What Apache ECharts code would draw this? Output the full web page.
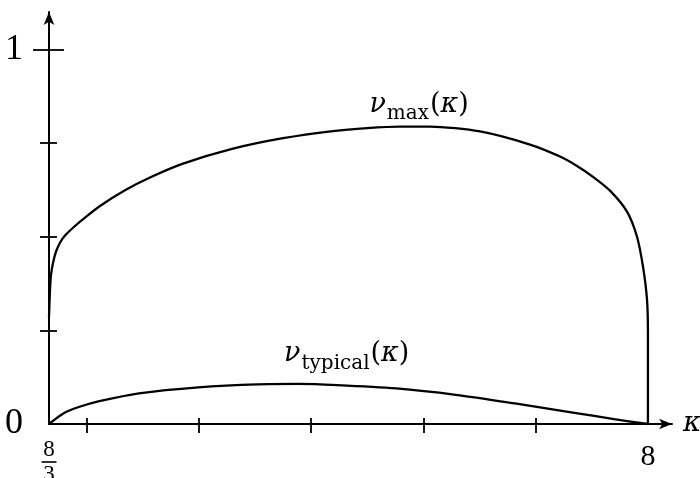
<!DOCTYPE html>
<html>
<head>
<meta charset="utf-8">
<script src="https://cdn.jsdelivr.net/npm/echarts@6/dist/echarts.min.js"></script>
<style>
  html, body { margin: 0; padding: 0; background: #fff; }
  #chart { width: 700px; height: 478px; }
</style>
</head>
<body>
<div id="chart"></div>
<script>
// Curve samples: nu_max(kappa) and nu_typical(kappa) for kappa in [8/3, 8]
const kappaMax = [2.6667, 2.6756, 2.6845, 2.7023, 2.7290, 2.7646, 2.8092, 2.8804, 2.9872,
  3.1208, 3.3434, 3.5660, 3.8599, 4.3051, 4.7504, 5.1956, 5.4984, 5.7922, 6.0594, 6.5046,
  6.9499, 7.2170, 7.3684, 7.5109, 7.6623, 7.8137, 7.9027, 7.9561, 7.9918, 8.0, 8.0];
const nuMax = [0.286, 0.358, 0.398, 0.430, 0.460, 0.484, 0.503, 0.524, 0.551,
  0.582, 0.624, 0.658, 0.695, 0.735, 0.763, 0.782, 0.790, 0.794, 0.794, 0.781,
  0.746, 0.714, 0.689, 0.660, 0.623, 0.567, 0.500, 0.420, 0.332, 0.243, 0];

const kappaTypical = [2.6667, 2.798, 2.939, 3.115, 3.468, 3.997, 4.525, 4.878, 5.231, 5.759,
  6.288, 6.816, 7.345, 7.698, 8.0];
const nuTypical = [0, 0.029, 0.046, 0.061, 0.082, 0.098, 0.106, 0.107, 0.104, 0.095,
  0.078, 0.055, 0.030, 0.013, 0];

// Axis ticks and labels
const kappaMin = 8 / 3;
const kappaTicks = [3, 4, 5, 6, 7];
const kappaEndLabel = [8];
const kappaStartLabel = [8 / 3];
const nuMinorTicks = [0.25, 0.5, 0.75];
const nuMajorTicks = [1];
const nuLabels = [0, 1];

const digitFont = 'Liberation Serif';
const greekFont = 'DejaVu Serif';

const chart = echarts.init(document.getElementById('chart'), null, { renderer: 'canvas' });

const xBase = {
  type: 'value', min: kappaMin, max: 8.2143, position: 'bottom',
  splitLine: { show: false }, axisLine: { show: false },
  axisTick: { show: false }, axisLabel: { show: false }
};
const yBase = {
  type: 'value', min: 0, max: 1.1, position: 'left',
  splitLine: { show: false }, axisLine: { show: false },
  axisTick: { show: false }, axisLabel: { show: false }
};
const tickStyle = { color: '#000', width: 1.8 };

const option = {
  backgroundColor: '#fff',
  animation: false,
  grid: { left: 49, right: 28, top: 12, bottom: 54, containLabel: false, outerBoundsMode: 'none' },
  xAxis: [
    Object.assign({}, xBase, {
      axisLine: { show: true, onZero: false, symbol: ['none', 'arrow'], symbolSize: [8, 13],
        lineStyle: { color: '#000', width: 2 } },
      axisTick: { show: true, inside: true, length: 6, customValues: kappaTicks, lineStyle: tickStyle },
      axisLabel: { show: true, customValues: kappaEndLabel, margin: 18, color: '#000',
        fontFamily: digitFont, fontSize: 30, formatter: () => '8' },
      name: 'κ', nameLocation: 'end', nameGap: 11,
      nameTextStyle: { color: '#000', fontFamily: greekFont, fontStyle: 'italic', fontSize: 28,
        verticalAlign: 'middle', padding: [0, 0, 4, 0] }
    }),
    Object.assign({}, xBase, {
      axisTick: { show: true, inside: false, length: 9, customValues: kappaTicks, lineStyle: tickStyle },
      axisLabel: { show: true, customValues: kappaStartLabel, margin: 15, color: '#000',
        fontFamily: digitFont,
        formatter: () => '{n|8}\n{d|3}',
        rich: {
          n: { fontFamily: digitFont, fontSize: 23, lineHeight: 21, color: '#000' },
          d: { fontFamily: digitFont, fontSize: 23, lineHeight: 29, color: '#000' }
        } }
    })
  ],
  yAxis: [
    Object.assign({}, yBase, {
      axisLine: { show: true, onZero: false, symbol: ['none', 'arrow'], symbolSize: [8, 13],
        lineStyle: { color: '#000', width: 2 } },
      axisTick: { show: true, inside: true, length: 8, customValues: nuMinorTicks, lineStyle: tickStyle },
      axisLabel: { show: true, customValues: nuLabels, margin: 26, color: '#000',
        fontFamily: digitFont, fontSize: 36 }
    }),
    Object.assign({}, yBase, {
      axisTick: { show: true, inside: false, length: 9, customValues: nuMinorTicks, lineStyle: tickStyle }
    }),
    Object.assign({}, yBase, {
      axisTick: { show: true, inside: true, length: 15, customValues: nuMajorTicks, lineStyle: tickStyle }
    }),
    Object.assign({}, yBase, {
      axisTick: { show: true, inside: false, length: 16, customValues: nuMajorTicks, lineStyle: tickStyle }
    })
  ],
  series: [
    {
      name: 'nu_max', type: 'line', xAxisIndex: 0, yAxisIndex: 0,
      data: kappaMax.map((k, i) => [k, nuMax[i]]),
      showSymbol: false, smooth: 0.25, clip: false,
      lineStyle: { color: '#000', width: 2.3 }
    },
    {
      name: 'nu_typical', type: 'line', xAxisIndex: 0, yAxisIndex: 0,
      data: kappaTypical.map((k, i) => [k, nuTypical[i]]),
      showSymbol: false, smooth: 0.3, clip: false,
      lineStyle: { color: '#000', width: 2.3 }
    }
  ]
};
chart.setOption(option);

// Curve names and the fraction bar of the 8/3 label, placed in data space
const toPx = (p) => chart.convertToPixel({ xAxisIndex: 0, yAxisIndex: 0 }, p);
const origin = toPx([kappaMin, 0]);
const maxAnchor = toPx([5.52, 0.888]);
const typAnchor = toPx([4.76, 0.222]);

const mainTok = { fontFamily: greekFont, fontSize: 27, lineHeight: 31, verticalAlign: 'top', fill: '#000' };
const greekTok = Object.assign({}, mainTok, { fontStyle: 'italic' });
function subTok(drop) {
  return { fontFamily: greekFont, fontSize: 20, lineHeight: 22, verticalAlign: 'top', padding: [drop, 1, 0, 1], fill: '#000' };
}

chart.setOption({
  graphic: [
    {
      type: 'text', x: maxAnchor[0], y: maxAnchor[1],
      style: {
        text: '{g|ν}{b|max}{a|(}{g|κ}{a|)}',
        rich: { a: mainTok, g: greekTok, b: subTok(12) },
        align: 'left', verticalAlign: 'top'
      }
    },
    {
      type: 'text', x: typAnchor[0], y: typAnchor[1],
      style: {
        text: '{g|ν}{b|typical}{a|(}{g|κ}{a|)}',
        rich: { a: mainTok, g: greekTok, b: subTok(13) },
        align: 'left', verticalAlign: 'top'
      }
    },
    {
      type: 'line',
      shape: { x1: origin[0] - 7.5, y1: origin[1] + 38, x2: origin[0] + 7.5, y2: origin[1] + 38 },
      style: { stroke: '#000', lineWidth: 1.6 }
    }
  ]
});
</script>
</body>
</html>
